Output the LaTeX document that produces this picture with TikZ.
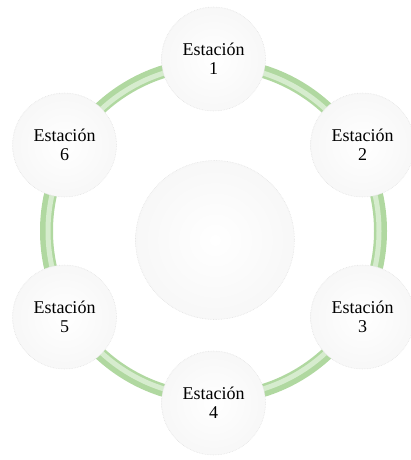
\documentclass[tikz,border=0pt]{standalone}
\usepackage{fontspec}
\setmainfont{Liberation Serif}
\definecolor{ringgreen}{RGB}{176,216,160}
\definecolor{ringlight}{RGB}{214,236,206}
\definecolor{rimgray}{RGB}{228,228,228}
\begin{document}
\begin{tikzpicture}[x=1pt,y=-1pt,
  ball/.style={circle, inner sep=0pt, draw=rimgray, densely dotted, line width=0.6pt,
    inner color=white, outer color=gray!6},
  station/.style={ball, minimum size=104pt, align=center, text=black,
    font=\fontsize{18}{19}\selectfont},
  ringline/.style={draw=ringgreen, line width=13pt},
  ringhl/.style={draw=ringlight, line width=5pt}]
\useasboundingbox (0,0) rectangle (410,460);
\coordinate (c) at (213.5,231);
\path[ringline] (c) circle[radius=167];
\path[ringhl] (c) circle[radius=165.5];
\node[ball, minimum size=159pt] (hub) at (215,240) {};
\node[station] (s1) at (213.5,59)  {Estación\\1};
\node[station] (s2) at (362.5,145) {Estación\\2};
\node[station] (s3) at (362.5,317) {Estación\\3};
\node[station] (s4) at (213.5,403) {Estación\\4};
\node[station] (s5) at (64.5,317)  {Estación\\5};
\node[station] (s6) at (64.5,145)  {Estación\\6};
\end{tikzpicture}
\end{document}
